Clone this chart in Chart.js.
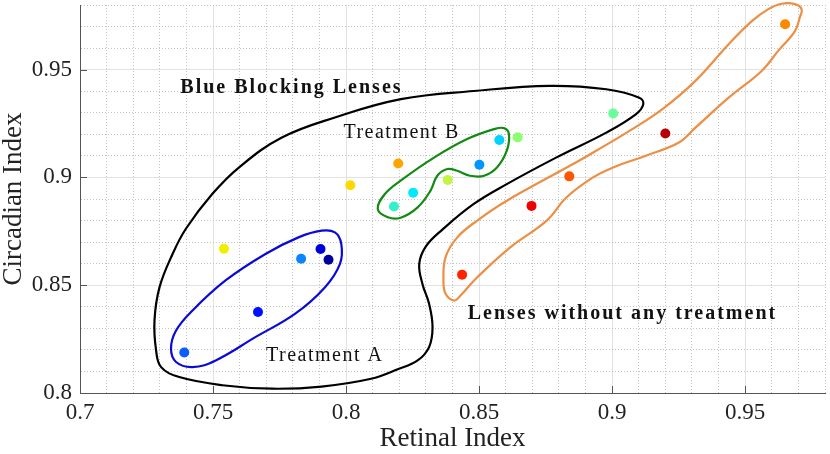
<!DOCTYPE html>
<html>
<head>
<meta charset="utf-8">
<script src="https://cdn.jsdelivr.net/npm/chart.js@4.4.1/dist/chart.umd.min.js"></script>
<style>
  html, body { margin: 0; padding: 0; background: #fff; }
</style>
</head>
<body>
<canvas id="lensChart" width="830" height="454"></canvas>
<script>
// lens measurements
const retinal = [0.7392, 0.7669, 0.7831, 0.7904, 0.7934, 0.7541, 0.8016, 0.8196, 0.8180, 0.8252,
                 0.8382, 0.8501, 0.8576, 0.8645, 0.9004, 0.9200, 0.8839, 0.8697, 0.8436, 0.9650]
const circadian = [0.8188, 0.8376, 0.8623, 0.8668, 0.8618, 0.8669, 0.8964, 0.9065, 0.8865, 0.8929,
                   0.8988, 0.9059, 0.9174, 0.9186, 0.9297, 0.9204, 0.9005, 0.8868, 0.8549, 0.9711]
const lensColors = ['#0b5cff', '#0010ff', '#0a84ff', '#0000dd', '#00009a', '#eef000', '#ffd800', '#ffa500', '#33f0c8', '#00eaff',
                    '#c2f542', '#0096ff', '#00d2ff', '#8cff6e', '#66ff99', '#b80000', '#ff5500', '#ee0000', '#ff2200', '#ff8800']

const xTickLabels = [0.7, 0.75, 0.8, 0.85, 0.9, 0.95]
const yTickLabels = [0.8, 0.85, 0.9, 0.95]

// group outlines (closed curves)
const blueBlockingX = [0.7398, 0.7497, 0.7597, 0.7757, 0.7958, 0.8206, 0.8480, 0.8766, 0.8978, 0.9102, 0.9117, 0.9090,
                       0.8978, 0.8791, 0.8604, 0.8480, 0.8362, 0.8300, 0.8275, 0.8287, 0.8312, 0.8325, 0.8312,
                       0.8269, 0.8194, 0.8094, 0.7908, 0.7721, 0.7535, 0.7373, 0.7305, 0.7286, 0.7280, 0.7299, 0.7348]
const blueBlockingY = [0.8762, 0.8923, 0.9046, 0.9184, 0.9278, 0.9363, 0.9401, 0.9425, 0.9409, 0.9370, 0.9340, 0.9294,
                       0.9208, 0.9093, 0.8969, 0.8877, 0.8758, 0.8680, 0.8599, 0.8506, 0.8414, 0.8306, 0.8213,
                       0.8151, 0.8110, 0.8066, 0.8030, 0.8020, 0.8036, 0.8074, 0.8120, 0.8198, 0.8337, 0.8491, 0.8645]

const treatAX = [0.7342, 0.7361, 0.7423, 0.7510, 0.7659, 0.7809, 0.7921, 0.7977, 0.7982, 0.7958, 0.7908, 0.7821,
                 0.7697, 0.7547, 0.7423, 0.7361]
const treatAY = [0.8206, 0.8144, 0.8120, 0.8151, 0.8259, 0.8368, 0.8491, 0.8599, 0.8692, 0.8745, 0.8753, 0.8722,
                 0.8645, 0.8522, 0.8383, 0.8290]

const treatBX = [0.8119, 0.8157, 0.8205, 0.8269, 0.8317, 0.8343, 0.8381, 0.8418, 0.8466, 0.8519, 0.8567, 0.8604,
                 0.8612, 0.8593, 0.8556, 0.8455, 0.8332, 0.8205, 0.8146]
const treatBY = [0.8854, 0.8815, 0.8813, 0.8861, 0.8938, 0.9008, 0.9039, 0.9031, 0.9008, 0.9008, 0.9046, 0.9124,
                 0.9202, 0.9229, 0.9224, 0.9178, 0.9093, 0.8985, 0.8923]

const untreatedX = [0.9637, 0.9687, 0.9712, 0.9705, 0.9687, 0.9624, 0.9562, 0.9438, 0.9313, 0.9251, 0.9127, 0.9003,
                    0.8928, 0.8828, 0.8754, 0.8617, 0.8493, 0.8430, 0.8406, 0.8374, 0.8366, 0.8374, 0.8418, 0.8493,
                    0.8604, 0.8853, 0.8940, 0.9065, 0.9189, 0.9313, 0.9438, 0.9525, 0.9587]
const untreatedY = [0.9806, 0.9804, 0.9781, 0.9741, 0.9679, 0.9587, 0.9494, 0.9370, 0.9231, 0.9162, 0.9101, 0.9046,
                    0.9000, 0.8907, 0.8800, 0.8676, 0.8537, 0.8452, 0.8429, 0.8460, 0.8522, 0.8630, 0.8722, 0.8800,
                    0.8892, 0.9062, 0.9124, 0.9216, 0.9317, 0.9448, 0.9618, 0.9725, 0.9781]

// text labels inside the plot
const labelText = ['Blue Blocking Lenses', 'Treatment B', 'Treatment A', 'Lenses without any treatment']
const labelX = [0.7377, 0.7990, 0.7699, 0.8457]
const labelY = [0.9414, 0.9206, 0.8174, 0.8369]
const labelBold = [true, false, false, true]

const serif = "'Liberation Serif', 'Times New Roman', serif"

function closedLoop(xs, ys, color) {
    // wrap one point on each side so the spline is smooth at the joint
    const pts = xs.map((x, i) => ({ x: x, y: ys[i] }))
    const n = pts.length
    const data = [pts[n - 1], ...pts, pts[0], pts[1]]
    const last = data.length - 2
    return {
        type: 'scatter',
        data: data,
        showLine: true,
        borderColor: color,
        borderWidth: 2.2,
        pointRadius: 0,
        pointHoverRadius: 0,
        tension: 0.4,
        fill: false,
        clip: false,
        order: 2,
        segment: {
            borderColor: ctx => (ctx.p0DataIndex === 0 || ctx.p0DataIndex === last) ? 'rgba(0,0,0,0)' : undefined
        }
    }
}

const isMajor = (list, v) => list.some(t => Math.abs(t - v) < 1e-6)

const innerTicks = {
    id: 'innerTicks',
    afterDraw(chart) {
        const { ctx, chartArea, scales } = chart
        ctx.save()
        ctx.strokeStyle = '#555'
        ctx.lineWidth = 1
        ctx.beginPath()
        xTickLabels.forEach(v => {
            const px = Math.round(scales.x.getPixelForValue(v)) + 0.5
            ctx.moveTo(px, chartArea.bottom)
            ctx.lineTo(px, chartArea.bottom - 7)
        })
        yTickLabels.forEach(v => {
            const py = Math.round(scales.y.getPixelForValue(v)) + 0.5
            ctx.moveTo(chartArea.left, py)
            ctx.lineTo(chartArea.left + 7, py)
        })
        ctx.stroke()
        ctx.restore()
    }
}

const groupLabels = {
    id: 'groupLabels',
    afterDatasetsDraw(chart) {
        const { ctx, scales } = chart
        ctx.save()
        ctx.fillStyle = '#111'
        ctx.textBaseline = 'middle'
        ctx.textAlign = 'left'
        labelText.forEach((t, i) => {
            ctx.font = (labelBold[i] ? 'bold ' : '') + '20px ' + serif
            ctx.letterSpacing = labelBold[i] ? '2px' : '1.5px'
            ctx.fillText(t, scales.x.getPixelForValue(labelX[i]), scales.y.getPixelForValue(labelY[i]))
        })
        ctx.restore()
    }
}

new Chart(document.getElementById('lensChart'), {
    type: 'scatter',
    data: {
        datasets: [
            {
                data: retinal.map((x, i) => ({ x: x, y: circadian[i] })),
                pointRadius: 5,
                pointHoverRadius: 5,
                pointBorderWidth: 0,
                pointBackgroundColor: lensColors,
                order: 0
            },
            closedLoop(blueBlockingX, blueBlockingY, '#000000'),
            closedLoop(treatAX, treatAY, '#0a0ad8'),
            closedLoop(treatBX, treatBY, '#138a13'),
            closedLoop(untreatedX, untreatedY, '#ec8f45')
        ]
    },
    options: {
        responsive: false,
        animation: false,
        layout: { padding: { top: 3, right: 1, left: 0, bottom: 0 } },
        plugins: {
            legend: { display: false },
            tooltip: { enabled: false }
        },
        scales: {
            x: {
                type: 'linear',
                min: 0.7,
                max: 0.98,
                afterFit: s => { s.height = 61; s.paddingLeft = 0; s.paddingRight = 0 },
                ticks: {
                    stepSize: 0.01,
                    autoSkip: false,
                    maxRotation: 0,
                    padding: 6,
                    color: '#222',
                    font: { family: serif, size: 23 },
                    callback: v => isMajor(xTickLabels, v) ? String(+v.toFixed(2)) : ''
                },
                grid: {
                    drawTicks: false,
                    lineWidth: 1,
                    color: ctx => isMajor(xTickLabels, ctx.tick.value) ? '#e2e2e2' : '#c4c4c4'
                },
                border: {
                    color: '#555',
                    width: 1,
                    dash: ctx => isMajor(xTickLabels, ctx.tick.value) ? [] : [1, 2]
                },
                title: {
                    display: true,
                    text: 'Retinal Index',
                    color: '#222',
                    padding: { top: 0, bottom: 2 },
                    font: { family: serif, size: 27, lineHeight: 1 }
                }
            },
            y: {
                type: 'linear',
                min: 0.8,
                max: 0.98,
                afterFit: s => { s.width = 80; s.paddingTop = 0; s.paddingBottom = 0 },
                ticks: {
                    stepSize: 0.01,
                    autoSkip: false,
                    padding: 8,
                    color: '#222',
                    font: { family: serif, size: 23 },
                    callback: v => isMajor(yTickLabels, v) ? String(+v.toFixed(2)) : ''
                },
                grid: {
                    drawTicks: false,
                    lineWidth: 1,
                    color: ctx => isMajor(yTickLabels, ctx.tick.value) ? '#e2e2e2' : '#c4c4c4'
                },
                border: {
                    color: '#555',
                    width: 1,
                    dash: ctx => isMajor(yTickLabels, ctx.tick.value) ? [] : [1, 2]
                },
                title: {
                    display: true,
                    text: 'Circadian Index',
                    color: '#222',
                    padding: { top: 0, bottom: 0 },
                    font: { family: serif, size: 27, lineHeight: 1 }
                }
            }
        }
    },
    plugins: [innerTicks, groupLabels]
})
</script>
</body>
</html>
